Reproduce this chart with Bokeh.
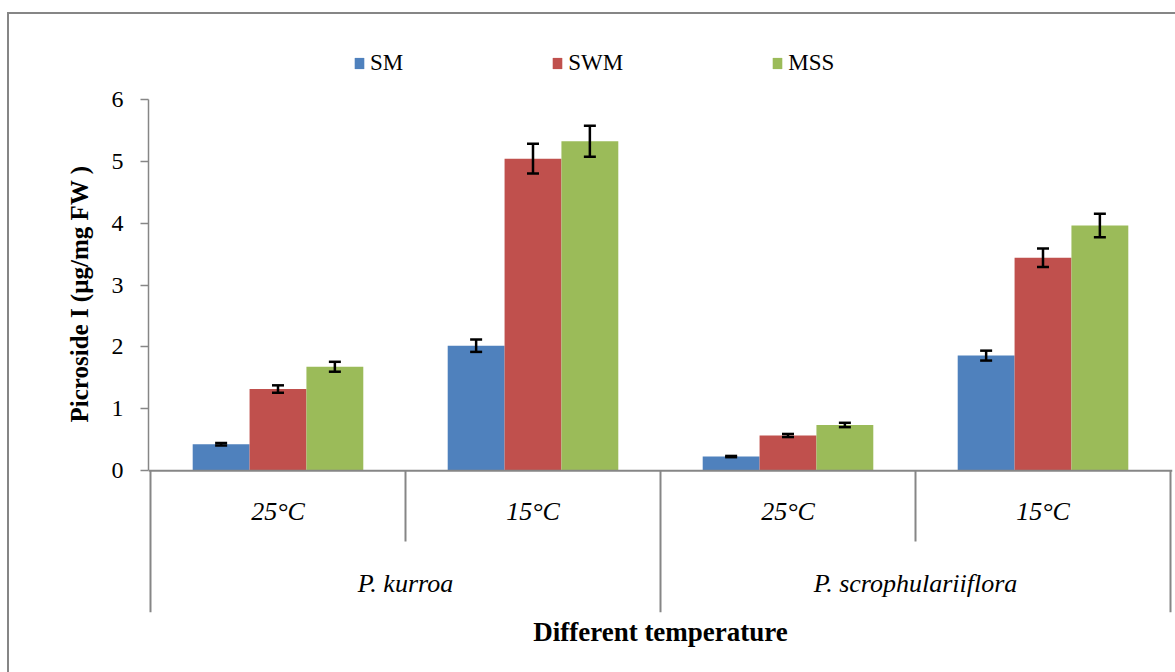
from bokeh.plotting import figure
from bokeh.models import (ColumnDataSource, FactorRange, Range1d, FixedTicker, Whisker, TeeHead,
                          Legend, LegendItem, Span, Title, InlineStyleSheet)
from bokeh.transform import dodge
from bokeh.core.properties import value
from bokeh.embed import file_html
from bokeh.resources import INLINE

# ---------------- data ----------------
species = ["P. kurroa", "P. kurroa", "P. scrophulariiflora", "P. scrophulariiflora"]
temps = ["25°C", "15°C", "25°C", "15°C"]
species_groups = ["P. kurroa", "P. scrophulariiflora"]
series_names = ["SM", "SWM", "MSS"]
sm = [0.43, 2.02, 0.23, 1.86]
swm = [1.32, 5.04, 0.57, 3.44]
mss = [1.68, 5.32, 0.74, 3.96]
sm_err = [0.02, 0.10, 0.01, 0.08]
swm_err = [0.06, 0.24, 0.025, 0.15]
mss_err = [0.08, 0.25, 0.035, 0.19]
y_ticks = [0, 1, 2, 3, 4, 5, 6]
x_title = "Different temperature"
y_title = "Picroside I (µg/mg FW )"

# ---------------- styles ----------------
colors = ["#4F81BD", "#C0504D", "#9BBB59"]
GRAY = "#868686"
FONT = "Liberation Serif"
BAR_W = 0.223

factors = list(zip(species, temps))
x_range = FactorRange(*factors, range_padding=2 / 255.5, range_padding_units="absolute",
                      factor_padding=0, group_padding=0, subgroup_padding=0)

border_css = InlineStyleSheet(css="""
:host { position: relative; }
:host::after {
  content: ""; position: absolute; left: 7px; top: 12px; right: 0; bottom: 0;
  border-left: 2px solid #868686; border-top: 2px solid #868686;
  pointer-events: none; z-index: 5;
}
""")

p = figure(x_range=x_range, y_range=Range1d(-2.288, 7.594), title=None,
           frame_width=1024, frame_height=612,
           min_border_left=148, min_border_right=3, min_border_top=0, min_border_bottom=60,
           output_backend="svg", toolbar_location=None, stylesheets=[border_css])
p.outline_line_color = None
p.xgrid.visible = False
p.ygrid.visible = False
p.xaxis.visible = False
p.background_fill_color = "white"
p.border_fill_color = "white"

# y axis
yax = p.yaxis[0]
yax.ticker = FixedTicker(ticks=y_ticks)
yax.bounds = (0, 6)
yax.axis_line_color = GRAY
yax.axis_line_width = 1.5
yax.major_tick_line_color = GRAY
yax.major_tick_line_width = 1.5
yax.major_tick_out = 8
yax.major_tick_in = 0
yax.minor_tick_line_color = None
yax.major_label_text_font = FONT
yax.major_label_text_font_size = "24px"
yax.major_label_text_color = "black"
yax.major_label_standoff = 17

data = dict(x=factors)
vals = [sm, swm, mss]
errs = [sm_err, swm_err, mss_err]
for i, name in enumerate(series_names):
    data[name] = vals[i]
    data[name + "_hi"] = [v + e for v, e in zip(vals[i], errs[i])]
    data[name + "_lo"] = [v - e for v, e in zip(vals[i], errs[i])]
src = ColumnDataSource(data)

offsets = [-BAR_W, 0.0, BAR_W]
renderers = []
for name, col, off in zip(series_names, colors, offsets):
    r = p.vbar(x=dodge("x", off, range=p.x_range), top=name, width=BAR_W, source=src,
               fill_color=col, line_color=None)
    renderers.append(r)
for name, off in zip(series_names, offsets):
    w = Whisker(base=dodge("x", off, range=p.x_range), upper=name + "_hi", lower=name + "_lo",
                source=src, line_color="black", line_width=2.5, level="overlay",
                upper_head=TeeHead(size=12, line_width=2.5, line_color="black"),
                lower_head=TeeHead(size=12, line_width=2.5, line_color="black"))
    p.add_layout(w)

# x axis line at zero
p.add_layout(Span(location=0, dimension="width", line_color=GRAY, line_width=2))

# category dividers
div_src = ColumnDataSource(dict(x=factors, y0=[0] * 4, y1=[-2.29, -1.141, -2.29, -1.141]))
p.segment(x0=dodge("x", -0.5, range=p.x_range), x1=dodge("x", -0.5, range=p.x_range),
          y0="y0", y1="y1", source=div_src, line_color=GRAY, line_width=2)
end_src = ColumnDataSource(dict(x=[factors[-1]], y0=[0], y1=[-2.29]))
p.segment(x0=dodge("x", 0.5, range=p.x_range), x1=dodge("x", 0.5, range=p.x_range),
          y0="y0", y1="y1", source=end_src, line_color=GRAY, line_width=2)

# category labels
temp_src = ColumnDataSource(dict(x=factors, y=[-0.653] * 4, t=temps))
p.text(x="x", y="y", text="t", source=temp_src, text_font=value(FONT), text_font_style="italic",
       text_font_size="26px", text_align="center", text_baseline="alphabetic", text_color="black")
sp_src = ColumnDataSource(dict(x=species_groups, y=[-1.82] * 2, t=species_groups))
p.text(x="x", y="y", text="t", source=sp_src, text_font=value(FONT), text_font_style="italic",
       text_font_size="26px", text_align="center", text_baseline="alphabetic", text_color="black")

# legend
legend = Legend(items=[LegendItem(label=n, renderers=[r]) for n, r in zip(series_names, renderers)],
                orientation="horizontal", location=(205, 536), spacing=148,
                glyph_width=12, glyph_height=14, label_standoff=5, padding=0, margin=0,
                border_line_color=None, background_fill_alpha=0,
                label_text_font=FONT, label_text_font_size="23px", label_text_color="black")
p.add_layout(legend, "center")

# y axis title (left panel)
p.add_layout(Title(text=y_title, align="left", offset=190, vertical_align="middle", standoff=30,
                   text_font=FONT, text_font_style="bold", text_font_size="25px",
                   text_color="black"), "left")

# x axis title
p.add_layout(Title(text=x_title, align="center", standoff=4, text_font=FONT, text_font_style="bold",
                   text_font_size="27px", text_color="black"), "below")

open("out.html", "w").write(file_html(p, INLINE))
